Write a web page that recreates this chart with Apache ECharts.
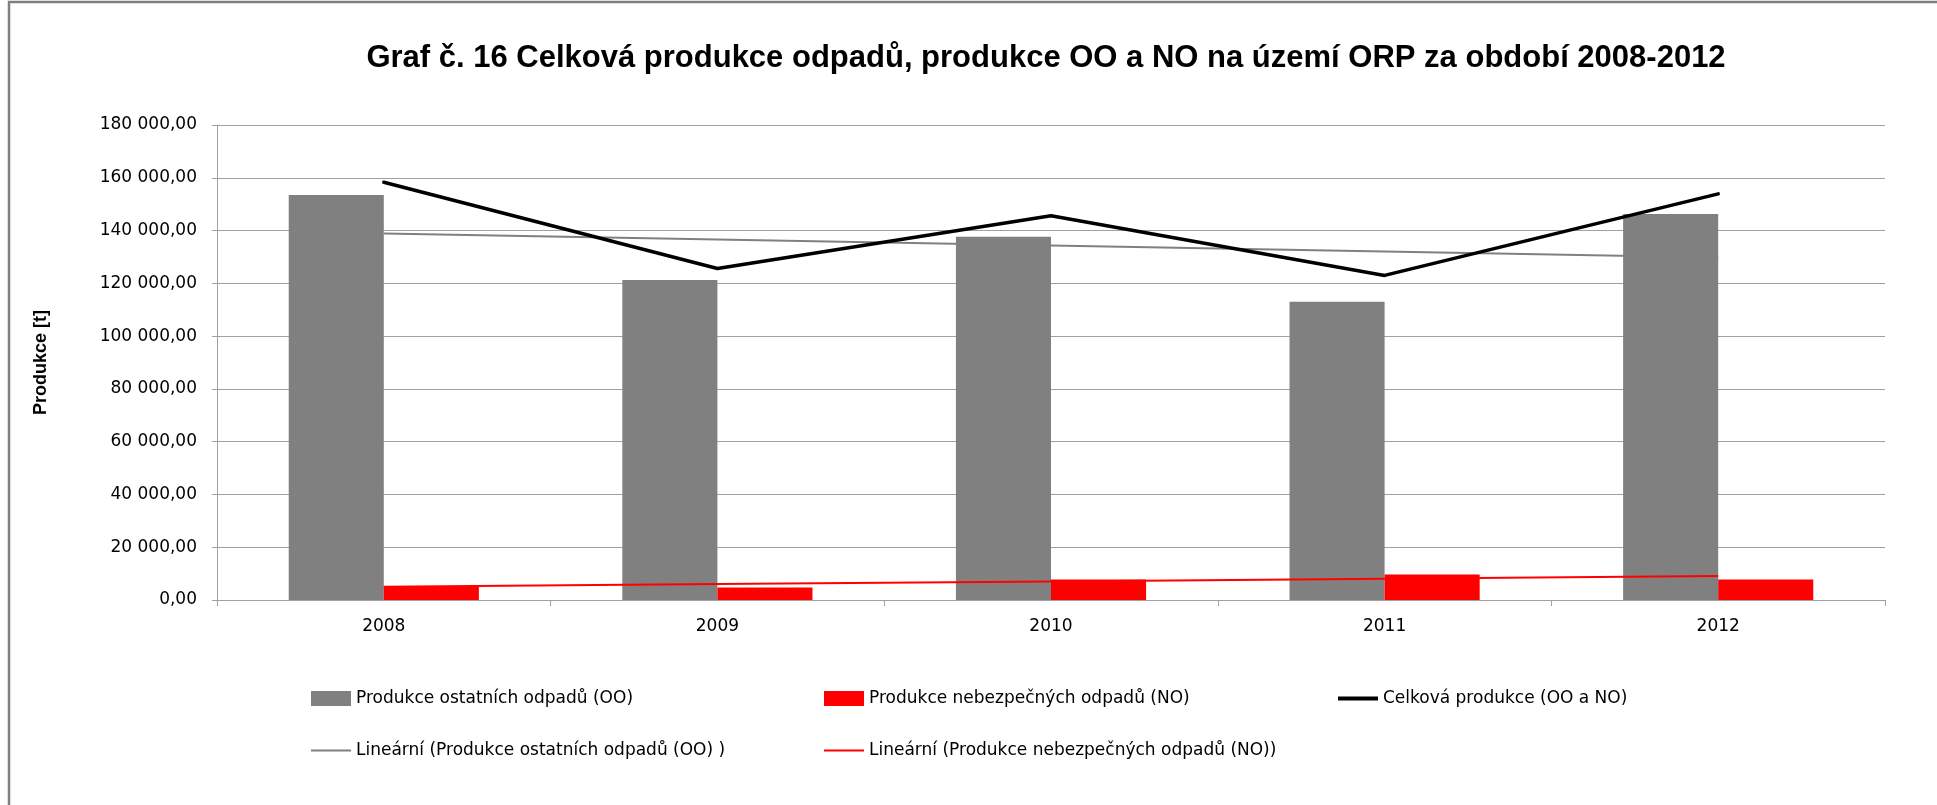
<!DOCTYPE html>
<html lang="cs">
<head>
<meta charset="utf-8">
<title>Graf č. 16 Celková produkce odpadů</title>
<script src="https://cdn.jsdelivr.net/npm/echarts@6/dist/echarts.min.js"></script>
<style>
  html, body { margin: 0; padding: 0; background: #ffffff; }
  #chart { width: 1937px; height: 805px; }
</style>
</head>
<body>
<div id="chart"></div>
<script>
// Roky sledovaného období
const years = ['2008', '2009', '2010', '2011', '2012'];

// Produkce ostatních odpadů (OO) [t]
const ostatni = [153500, 121300, 137700, 113000, 146300];

// Produkce nebezpečných odpadů (NO) [t]
const nebezpecne = [5200, 4700, 7800, 9700, 7800];

// Celková produkce (OO a NO) [t]
const celkem = [158300, 125600, 145600, 123000, 153900];

// Popisky osy Y
const yTicks = [0, 20000, 40000, 60000, 80000, 100000, 120000, 140000, 160000, 180000];

const seriesNames = {
  oo: 'Produkce ostatních odpadů (OO)',
  no: 'Produkce nebezpečných odpadů (NO)',
  total: 'Celková produkce (OO a NO)',
  trendOO: 'Lineární (Produkce ostatních odpadů (OO) )',
  trendNO: 'Lineární (Produkce nebezpečných odpadů (NO))'
};

// Lineární spojnice trendu (metoda nejmenších čtverců, x = 1..n)
function linearTrend(values) {
  const n = values.length;
  let sx = 0, sy = 0, sxx = 0, sxy = 0;
  values.forEach((y, i) => {
    const x = i + 1;
    sx += x; sy += y; sxx += x * x; sxy += x * y;
  });
  const b = (n * sxy - sx * sy) / (n * sxx - sx * sx);
  const a = (sy - b * sx) / n;
  return values.map((_, i) => a + b * (i + 1));
}

function formatCz(v) {
  return String(Math.round(v)).replace(/\B(?=(\d{3})+(?!\d))/g, '\u00a0') + ',00';
}

const axisFont = 'DejaVu Sans';
const gridColor = '#a0a0a0';

const chart = echarts.init(document.getElementById('chart'), null, { renderer: 'canvas' });

const legendBase = {
  orient: 'horizontal',
  padding: 0,
  itemWidth: 40,
  itemGap: 0,
  selectedMode: false,
  textStyle: { fontFamily: axisFont, fontSize: 17, color: '#000000' }
};

function legendItem(name, left, top, icon, height) {
  return Object.assign({}, legendBase, {
    left: left,
    top: top,
    itemHeight: height,
    data: [{ name: name, icon: icon }]
  });
}

chart.setOption({
  animation: false,
  backgroundColor: '#ffffff',
  title: {
    text: 'Graf č. 16 Celková produkce odpadů, produkce OO a NO na území ORP za období 2008-2012',
    left: 1046,
    top: 43,
    padding: 0,
    textAlign: 'center',
    textStyle: {
      fontFamily: 'Liberation Sans',
      fontWeight: 'bold',
      fontSize: 31,
      color: '#000000'
    }
  },
  graphic: [
    {
      type: 'rect',
      silent: true,
      shape: { x: 9, y: 2, width: 4000, height: 4000 },
      style: { fill: 'none', stroke: '#808080', lineWidth: 2.5 }
    }
  ],
  legend: [
    legendItem(seriesNames.oo, 311, 690, 'rect', 15),
    legendItem(seriesNames.no, 824, 690, 'rect', 15),
    legendItem(seriesNames.total, 1338, 690, 'rect', 4),
    legendItem(seriesNames.trendOO, 311, 742, 'rect', 2),
    legendItem(seriesNames.trendNO, 824, 742, 'rect', 2)
  ],
  grid: {
    left: 217,
    right: 52,
    top: 125,
    bottom: 205,
    containLabel: false
  },
  xAxis: {
    type: 'category',
    data: years,
    boundaryGap: true,
    axisLine: { show: true, lineStyle: { color: gridColor, width: 1 } },
    axisTick: { show: true, alignWithLabel: false, interval: 0, length: 6, lineStyle: { color: gridColor } },
    axisLabel: {
      margin: 18,
      fontFamily: axisFont,
      fontSize: 17,
      color: '#000000'
    },
    splitLine: { show: false }
  },
  yAxis: {
    type: 'value',
    min: yTicks[0],
    max: yTicks[yTicks.length - 1],
    interval: yTicks[1] - yTicks[0],
    name: 'Produkce [t]',
    nameLocation: 'middle',
    nameRotate: 90,
    nameGap: 167,
    nameTextStyle: {
      fontFamily: 'Liberation Sans',
      fontWeight: 'bold',
      fontSize: 18,
      color: '#000000'
    },
    axisLine: { show: true, lineStyle: { color: gridColor, width: 1 } },
    axisTick: { show: true, length: 5, lineStyle: { color: gridColor } },
    axisLabel: {
      margin: 20,
      fontFamily: axisFont,
      fontSize: 17,
      color: '#000000',
      formatter: formatCz
    },
    splitLine: { show: true, lineStyle: { color: gridColor, width: 1 } }
  },
  series: [
    {
      name: seriesNames.oo,
      type: 'bar',
      data: ostatni,
      barGap: '0%',
      barCategoryGap: '43%',
      itemStyle: { color: '#808080' },
      z: 2
    },
    {
      name: seriesNames.no,
      type: 'bar',
      data: nebezpecne,
      barGap: '0%',
      barCategoryGap: '43%',
      itemStyle: { color: '#ff0000' },
      z: 2
    },
    {
      name: seriesNames.total,
      type: 'line',
      data: celkem,
      symbol: 'none',
      lineStyle: { color: '#000000', width: 3.5, join: 'round', cap: 'round' },
      itemStyle: { color: '#000000' },
      z: 5
    },
    {
      name: seriesNames.trendOO,
      type: 'line',
      data: linearTrend(ostatni),
      symbol: 'none',
      lineStyle: { color: '#808080', width: 2 },
      itemStyle: { color: '#808080' },
      z: 4
    },
    {
      name: seriesNames.trendNO,
      type: 'line',
      data: linearTrend(nebezpecne),
      symbol: 'none',
      lineStyle: { color: '#ff0000', width: 2 },
      itemStyle: { color: '#ff0000' },
      z: 4
    }
  ]
});
</script>
</body>
</html>
